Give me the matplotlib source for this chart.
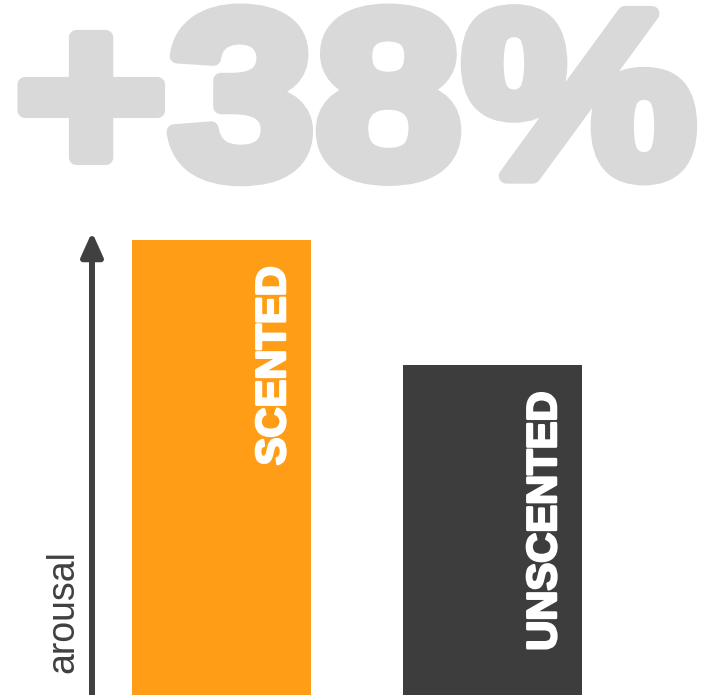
import matplotlib
matplotlib.use("Agg")
import matplotlib.pyplot as plt
import matplotlib.patheffects as pe
from matplotlib.transforms import Affine2D

# ---- data ----
categories = ["SCENTED", "UNSCENTED"]
values = [138, 100]
colors = ["#FF9E16", "#3D3D3D"]
headline = "+38%"
axis_label = "arousal"

W, H, DPI = 703, 695, 100
fig = plt.figure(figsize=(W / DPI, H / DPI), dpi=DPI)


class StretchStroke(pe.AbstractPathEffect):
    """Widen text horizontally about x0 (pixels) and add a stroke."""
    def __init__(self, sx, x0, lw, color):
        super().__init__()
        self.sx, self.x0, self.lw, self.color = sx, x0, lw, color

    def draw_path(self, renderer, gc, tpath, affine, rgbFace):
        aff = affine + Affine2D().translate(-self.x0, 0).scale(self.sx, 1).translate(self.x0, 0)
        gc0 = renderer.new_gc()
        gc0.copy_properties(gc)
        gc0.set_linewidth(self.lw)
        gc0.set_foreground(self.color)
        gc0.set_joinstyle("round")
        renderer.draw_path(gc0, tpath, aff, rgbFace)
        gc0.restore()


px_per_unit = 3.3
ax_top_px = 232
ax = fig.add_axes([0, 0, 1, (H - ax_top_px) / H])
ymax = (H - ax_top_px) / px_per_unit
ax.set_ylim(0, ymax)
spacing_px = 271
first_center_px = 221.5
ax.set_xlim(-first_center_px / spacing_px, (W - first_center_px) / spacing_px)
ax.axis("off")

bar_w = 179 / spacing_px
xs = list(range(len(categories)))
bars = ax.bar(xs, values, width=bar_w, color=colors)

for b, lab in zip(bars, categories):
    ax.annotate(lab, xy=(b.get_x() + b.get_width(), b.get_height()),
                xytext=(-37 * 0.72, -27 * 0.72), textcoords="offset points",
                rotation=90, ha="center", va="top", color="white",
                fontsize=30, fontweight="bold", family="Liberation Sans",
                path_effects=[pe.withStroke(linewidth=1.8, foreground="white")])

# arrow (y axis)
arrow_x = (92 - first_center_px) / spacing_px
ax.annotate("", xy=(arrow_x, 1.0), xytext=(arrow_x, 0.0),
            xycoords=("data", "axes fraction"), textcoords=("data", "axes fraction"),
            arrowprops=dict(arrowstyle="-|>,head_length=1.0,head_width=0.45",
                            mutation_scale=14.4, lw=4.3, color="#404040",
                            shrinkA=0, shrinkB=0), annotation_clip=False)

ax.text((63 - first_center_px) / spacing_px, 22 / px_per_unit, axis_label,
        rotation=90, ha="center", va="bottom", color="#404040",
        fontsize=27, family="Liberation Sans")

left_px = 14
fig.text(left_px / W, 1 - 5 / H, headline, ha="left", va="top", color="#D9D9D9",
         fontsize=170, fontweight="bold", family="Liberation Sans",
         path_effects=[StretchStroke(1.118, left_px, 11, "#D9D9D9")])

fig.savefig("out.png", dpi=DPI)
